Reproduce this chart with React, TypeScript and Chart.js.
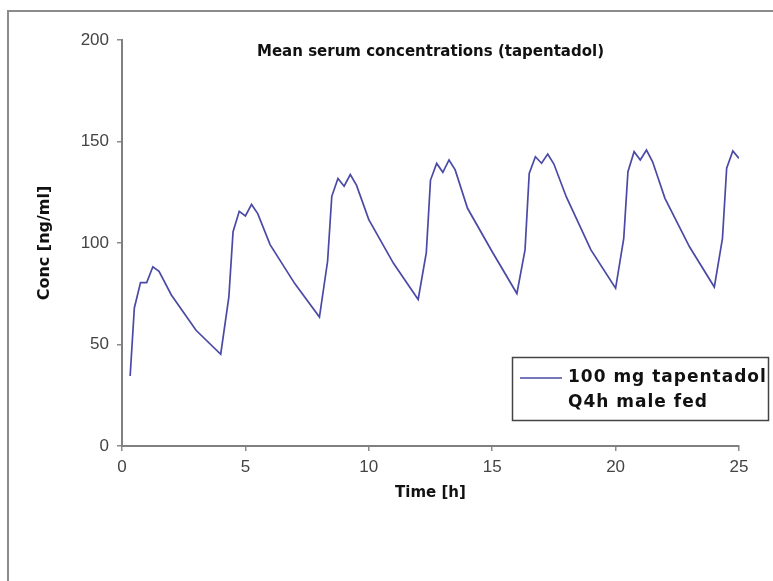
import React, { useEffect, useRef } from 'react';
import { Chart, registerables } from 'chart.js';

Chart.register(...registerables);

const CHART_TITLE = 'Mean serum concentrations (tapentadol)';
const X_TITLE = 'Time [h]';
const Y_TITLE = 'Conc [ng/ml]';
const SERIES_LABEL_LINES = ['100 mg tapentadol', 'Q4h male fed'];

const timeH = [
  0.33, 0.5, 0.75, 1, 1.25, 1.5, 2, 3, 4,
  4.33, 4.5, 4.75, 5, 5.25, 5.5, 6, 7, 8,
  8.33, 8.5, 8.75, 9, 9.25, 9.5, 10, 11, 12,
  12.33, 12.5, 12.75, 13, 13.25, 13.5, 14, 15, 16,
  16.33, 16.5, 16.75, 17, 17.25, 17.5, 18, 19, 20,
  20.33, 20.5, 20.75, 21, 21.25, 21.5, 22, 23, 24,
  24.33, 24.5, 24.75, 25,
];

const concNgMl = [
  34.5, 68, 80.5, 80.5, 88.3, 86, 74.4, 57, 45.2,
  73.5, 105.6, 115.6, 113.3, 119, 114.5, 99.2, 80, 63.5,
  91, 123, 131.8, 128, 133.7, 128.5, 111.5, 90, 72.2,
  95.3, 131, 139.2, 134.8, 140.9, 136, 117.1, 95.7, 75.1,
  96.6, 134.3, 142.5, 139.3, 143.8, 138.9, 122.8, 96.6, 77.7,
  102.3, 135.1, 145, 140.9, 145.8, 140, 122, 98, 78.3,
  102.3, 136.8, 145.3, 141.7,
];

const X_TICKS = [0, 5, 10, 15, 20, 25];
const Y_TICKS = [0, 50, 100, 150, 200];

const LINE_COLOR = '#4a4aa6';
const FONT = 'DejaVu Sans';
const TICK_FONT = 'Liberation Sans';

const decorPlugin = {
  id: 'decor',
  beforeDraw(chart: any) {
    const { ctx, width, height } = chart;
    ctx.save();
    ctx.fillStyle = '#ffffff';
    ctx.fillRect(0, 0, width, height);
    ctx.strokeStyle = '#8c8c8c';
    ctx.lineWidth = 2;
    ctx.strokeRect(8, 11, width + 50, height + 50);
    ctx.restore();
  },
  afterDraw(chart: any) {
    const { ctx, chartArea } = chart;
    ctx.save();
    // chart title inside plot area
    ctx.fillStyle = '#111';
    ctx.font = `bold 15px "${FONT}"`;
    ctx.textAlign = 'center';
    ctx.textBaseline = 'middle';
    ctx.fillText(CHART_TITLE, (chartArea.left + chartArea.right) / 2, chartArea.top + 12);

    // legend box
    const bx = chartArea.right - 227;
    const by = chartArea.top + 317;
    const bw = 256;
    const bh = 63;
    ctx.strokeStyle = '#444';
    ctx.lineWidth = 1.5;
    ctx.strokeRect(bx + 0.5, by + 0.5, bw, bh);
    ctx.strokeStyle = chart.data.datasets[0].borderColor;
    ctx.lineWidth = 1.6;
    ctx.beginPath();
    ctx.moveTo(bx + 8, by + 21);
    ctx.lineTo(bx + 50, by + 21);
    ctx.stroke();
    ctx.fillStyle = '#111';
    ctx.font = `bold 17px "${FONT}"`;
    try {
      (ctx as any).letterSpacing = '1px';
    } catch (e) {
      /* ignore */
    }
    ctx.textAlign = 'left';
    SERIES_LABEL_LINES.forEach((line, i) => {
      ctx.fillText(line, bx + 56, by + 21 + i * 25);
    });
    ctx.restore();
  },
};

export default function App() {
  const canvasRef = useRef<HTMLCanvasElement | null>(null);

  useEffect(() => {
    document.body.style.margin = '0';
    const canvas = canvasRef.current;
    if (!canvas) return;
    const points = timeH.map((t, i) => ({ x: t, y: concNgMl[i] }));
    const axisCommon = {
      type: 'linear' as const,
      grid: {
        display: true,
        drawOnChartArea: false,
        drawTicks: true,
        tickLength: 5,
        color: '#8a8a8a',
        lineWidth: 1.5,
      },
      border: { display: true, color: '#808080', width: 2 },
    };
    const chart = new Chart(canvas, {
      type: 'scatter',
      data: {
        datasets: [
          {
            label: SERIES_LABEL_LINES.join(' '),
            data: points,
            showLine: true,
            borderColor: LINE_COLOR,
            backgroundColor: LINE_COLOR,
            borderWidth: 1.7,
            pointRadius: 0,
            tension: 0,
          },
        ],
      },
      options: {
        animation: false,
        responsive: false,
        devicePixelRatio: 1,
        layout: { padding: { left: 0, top: 40, right: 34, bottom: 75 } },
        plugins: {
          legend: { display: false },
          tooltip: { enabled: false },
          title: { display: false },
        },
        scales: {
          x: {
            ...axisCommon,
            min: 0,
            max: 25,
            afterBuildTicks: (s: any) => {
              s.ticks = X_TICKS.map((v) => ({ value: v }));
            },
            afterFit: (s: any) => {
              s.height = 60;
            },
            ticks: {
              color: '#444',
              font: { family: TICK_FONT, size: 17 },
              padding: 6,
              maxRotation: 0,
            },
            title: {
              display: true,
              text: X_TITLE,
              color: '#111',
              font: { family: FONT, size: 15, weight: 'bold' },
              padding: { top: 0, bottom: 4 },
            },
          },
          y: {
            ...axisCommon,
            min: 0,
            max: 200,
            afterBuildTicks: (s: any) => {
              s.ticks = Y_TICKS.map((v) => ({ value: v }));
            },
            afterFit: (s: any) => {
              s.width = 122;
            },
            ticks: {
              color: '#444',
              font: { family: TICK_FONT, size: 17 },
              padding: 8,
            },
            title: {
              display: true,
              text: Y_TITLE,
              color: '#111',
              font: { family: FONT, size: 16, weight: 'bold' },
              padding: { top: 35, bottom: 0 },
            },
          },
        },
      },
      plugins: [decorPlugin],
    } as any);
    return () => chart.destroy();
  }, []);

  return (
    <div style={{ width: 773, height: 581 }}>
      <canvas ref={canvasRef} width={773} height={581} style={{ display: 'block' }} />
    </div>
  );
}
